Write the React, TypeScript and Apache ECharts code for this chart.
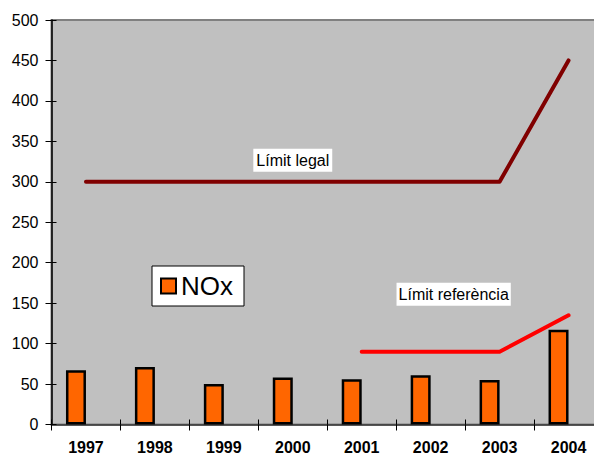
import React, { useEffect, useRef } from "react";
import * as echarts from "echarts";

const years = ["1997", "1998", "1999", "2000", "2001", "2002", "2003", "2004"];
const noxValues = [67, 71, 50, 58, 56, 61, 55, 117];
const legalLimit = [300, 300, 300, 300, 300, 300, 300, 450];
const referenceLimit = [null, null, null, null, 90, 90, 90, 135];
const emptySeries = [null, null, null, null, null, null, null, null];
const yTicks = { min: 0, max: 500, interval: 50 };

export default function App() {
  const ref = useRef<HTMLDivElement>(null);
  useEffect(() => {
    if (!ref.current) return;
    const chart = echarts.init(ref.current, null, { renderer: "svg" });
    const font = "'Liberation Sans', Arial, sans-serif";
    const narrow = "'Liberation Sans Narrow', 'Arial Narrow', 'Liberation Sans', sans-serif";
    const labelStyle = {
      backgroundColor: "#ffffff",
      fontFamily: narrow,
      fontSize: 16,
      color: "#000",
    };
    chart.setOption({
      animation: false,
      backgroundColor: "#ffffff",
      grid: {
        left: 51.5,
        top: 20,
        right: -9,
        bottom: 30.5,
        containLabel: false,
        outerBoundsMode: "none",
        show: true,
        backgroundColor: "#C0C0C0",
        borderColor: "#808080",
        borderWidth: 2,
      },
      legend: {
        data: ["NOx"],
        left: 152,
        top: 266,
        orient: "vertical",
        backgroundColor: "#ffffff",
        borderColor: "#000000",
        borderWidth: 1,
        padding: [7, 11, 7, 8],
        itemWidth: 15,
        itemHeight: 15,
        itemGap: 4,
        icon: "rect",
        textStyle: { fontFamily: font, fontSize: 26, color: "#000" },
      },
      xAxis: [
        {
          type: "category",
          data: years,
          position: "bottom",
          axisLine: { lineStyle: { color: "#333333", width: 1.5 } },
          axisTick: { show: true, inside: false, length: 6, lineStyle: { color: "#000" } },
          axisLabel: {
            fontFamily: font,
            fontWeight: "bold",
            fontSize: 16,
            color: "#000",
            margin: 15,
          },
          splitLine: { show: false },
        },
        {
          type: "category",
          data: years,
          position: "bottom",
          axisLine: { show: false },
          axisTick: { show: true, inside: true, length: 5, lineStyle: { color: "#000" } },
          axisLabel: { show: false },
          splitLine: { show: false },
        },
      ],
      yAxis: [
        {
          type: "value",
          min: yTicks.min,
          max: yTicks.max,
          interval: yTicks.interval,
          axisLine: { show: true, lineStyle: { color: "#000", width: 1.5 } },
          axisTick: { show: true, inside: false, length: 6, lineStyle: { color: "#000" } },
          axisLabel: { fontFamily: font, fontSize: 16, color: "#000", margin: 13 },
          splitLine: { show: false },
        },
        {
          type: "value",
          position: "left",
          min: yTicks.min,
          max: yTicks.max,
          interval: yTicks.interval,
          axisLine: { show: false },
          axisTick: { show: true, inside: true, length: 5, lineStyle: { color: "#000" } },
          axisLabel: { show: false },
          splitLine: { show: false },
        },
      ],
      series: [
        {
          name: "NOx",
          type: "bar",
          data: noxValues,
          barWidth: 20,
          barGap: "0%",
          itemStyle: { color: "#FF6600", borderColor: "#000000", borderWidth: 2.5 },
        },
        {
          name: "empty",
          type: "bar",
          data: emptySeries,
          barWidth: 20,
          barGap: "0%",
        },
        {
          name: "Límit legal",
          type: "line",
          data: legalLimit,
          symbol: "none",
          lineStyle: { color: "#800000", width: 4, cap: "round", join: "round" },
          markPoint: {
            symbol: "rect",
            symbolSize: 0,
            data: [
              {
                coord: [3, legalLimit[3]],
                label: {
                  show: true,
                  position: "top",
                  distance: 10,
                  formatter: "Límit legal",
                  padding: [4, 3, 3, 3],
                  ...labelStyle,
                },
              },
            ],
          },
        },
        {
          name: "Límit referència",
          type: "line",
          data: referenceLimit,
          symbol: "none",
          lineStyle: { color: "#FF0000", width: 4, cap: "round", join: "round" },
          markPoint: {
            symbol: "rect",
            symbolSize: 0,
            data: [
              {
                coord: [5, referenceLimit[5]],
                label: {
                  show: true,
                  position: "top",
                  distance: 46,
                  offset: [23, 0],
                  formatter: "Límit referència",
                  padding: [4, 2, 3, 2],
                  ...labelStyle,
                },
              },
            ],
          },
        },
      ],
    });
    return () => chart.dispose();
  }, []);
  return <div ref={ref} style={{ width: 594, height: 455, position: "absolute", left: 0, top: 0 }} />;
}
